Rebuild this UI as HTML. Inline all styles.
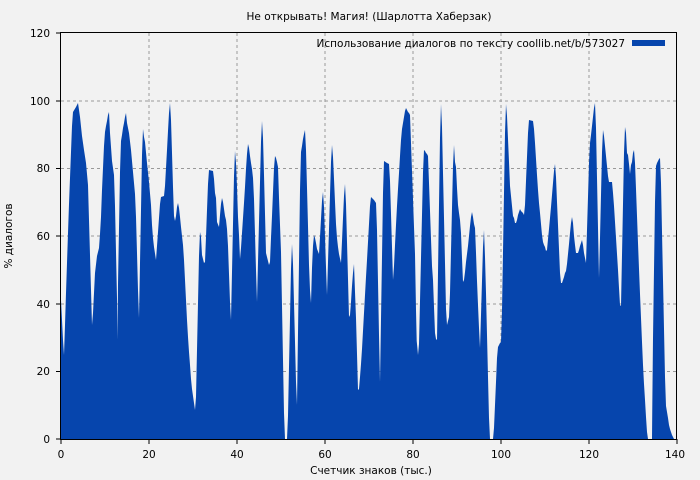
<!DOCTYPE html>
<html><head><meta charset="utf-8"><style>
html,body{margin:0;padding:0;background:#f2f2f2;}
svg{display:block;font-family:"DejaVu Sans","Liberation Sans",sans-serif;}
</style></head><body>
<svg width="700" height="480" viewBox="0 0 700 480" xmlns="http://www.w3.org/2000/svg">
<rect width="700" height="480" fill="#f2f2f2"/>
<g stroke="#999" stroke-width="1" stroke-dasharray="3,3">
<line x1="149" y1="33" x2="149" y2="439"/><line x1="237" y1="33" x2="237" y2="439"/>
<line x1="325" y1="33" x2="325" y2="439"/><line x1="413" y1="33" x2="413" y2="439"/>
<line x1="501" y1="33" x2="501" y2="439"/><line x1="589" y1="33" x2="589" y2="439"/>
<line x1="61" y1="371.5" x2="677" y2="371.5"/><line x1="61" y1="304" x2="677" y2="304"/>
<line x1="61" y1="236" x2="677" y2="236"/><line x1="61" y1="168.5" x2="677" y2="168.5"/>
<line x1="61" y1="101" x2="677" y2="101"/>
</g>
<polygon fill="#0645ad" points="61,439 61,300 62,320 63,340 64,355 65,325 66,293 67,263 68,233 69,204 70,178 71,152 72,126 73,112 76,107 78,103 80,117 82,136 84,150 86,163 88,185 89,220 90,255 91,290 92,325 93,313 94,293 95,273 97,256 99,248 100,234 101,217 102,190 103,168 104,146 105,132 106,126 107,121 108,115 109,112 110,133 112,161 114,175 115,206 116,252 117,298 117.5,340 118,284 119,228 120,172 121,141 122,135 123,128 124,123 125,117 126,113 127,123 129,133 131,150 133,172 134,183 135,194 136,217 137,253 138,290 139,318 140,263 141,210 142,155 143,129 144,137 145,142 147,163 149,182 151,205 152,225 153,238 154,247 156,260 157,246 158,232 159,218 160,204 161,197 164,196 165,186 166,168 167,150 168,131 169,113 170,103 171,120 172,153 173,187 174,216 175,221 176,216 177,207 178,203 179,208 180,217 181,227 182,236 183,245 184,260 185,280 186,300 187,320 188,337 189,352 190,365 191,379 192,389 193,396 194,403 195,410 196,397 197,350 198,303 199,256 200,232 201,237 202,255 204,263 205,262 206,237 207,210 208,184 209,170 213,171 214,179 215,193 216,198 217,222 219,227 220,215 221,204 222,198 223,202 224,209 225,216 226,220 227,229 228,246 229,274 230,302 231,320 232,272 233,224 234,176 235,151 236,163 237,187 238,217 239,235 240,259 241,248 242,233 243,218 244,203 245,187 246,169 247,154 248,144 249,148 250,156 251,163 252,169 253,178 254,199 255,234 256,270 257,302 258,262 259,222 260,182 261,142 262,121 263,138 264,175 265,214 266,253 267,257 268,261 269,265 270,262 271,238 272,216 273,192 274,168 275,156 276,158 277,162 278,167 279,198 280,225 281,252 282,306 283,360 284,413 285,439 287,439 288,416 289,367 290,318 291,269 292,244 293,264 294,303 295,342 296,382 297,405 298,333 299,262 300,190 301,152 302,146 303,139 304,134 305,130 306,150 307,188 308,226 309,265 310,290 311,303 312,268 313,246 314,235 315,238 316,243 317,249 319,254 320,237 321,219 322,201 323,192 324,207 325,237 326,267 327,295 328,262 329,229 330,195 331,162 332,145 333,157 334,179 335,202 336,224 337,238 338,247 339,254 341,263 342,241 343,218 344,196 345,184 346,204 347,242 348,279 349,317 350,315 351,302 352,286 353,273 354,264 355,292 356,318 357,354 358,390 359,389 360,377 361,364 362,349 363,331 364,313 365,295 366,277 367,260 368,242 369,224 370,206 371,197 374,200 376,203 377,230 378,282 379,335 380,382 381,319 382,257 383,193 384,161 387,163 389,164 390,181 391,214 392,247 393,280 394,266 395,245 396,225 397,206 398,189 399,173 400,156 401,140 402,129 403,123 404,117 405,111 406,108 407,110 408,112 409,113 410,115 411,143 412,171 413,199 414,227 415,254 416,310 416.7,341 417.3,347 418,355 419,344 420,301 421,258 422,215 423,172 424,150 425,151 426,153 427,154 428,156 429,183 430,211 431,239 432,266 433,280 434,307 435,333 436,339 437,340 438,273 439,205 440,138 441,104 442,127 443,173 444,218 445,263 446,309 447,325 448,321 449,317 450,293 451,251 452,208 453,166 454,145 455,162 456,167 457,188 458,205 459,213 460,220 461,233 462,258 463,282 464,280 465,272 466,262 467,254 468,246 469,236 470,226 471,217 472,212 473,217 474,224 475,228 476,253 477,281 478,305 479,328 480,348 481,315 482,281 483,247 484,230 485,257 486,293 487,335 488,377 489,418 490,439 493,439 494,428 495,405 496,382 497,358 498,347 499,345 500,343 501,342 502,310 503,252 504,193 505,133 506,104 507,116 508,139 509,162 510,186 511,196 512,206 513,216 514,218 515,223 516,223 517,220 518,215 519,212 520,209 521,211 523,213 524,215 525,205 526,181 527,157 528,133 529,120 533,121 534,129 535,143 536,159 537,175 538,190 539,203 540,213 541,224 542,235 543,242 544,245 545,247 546,251 547,250 548,239 549,229 550,218 551,207 552,195 553,183 554,171 555,164 556,177 557,202 558,225 559,249 560,273 561,283 562,283 563,280 564,277 565,273 566,271 567,264 568,254 569,244 570,233 571,223 572,217 573,223 574,236 575,245 576,253 578,253 579,250 580,246 581,243 582,240 583,245 584,253 586,263 587,230 588,197 589,163 590,143 591,135 592,126 593,117 594,108 595,103 596,128 597,178 598,228 599,278 600,238 601,195 602,152 603,130 604,136 605,146 606,156 607,166 608,176 609,182 612,182 613,193 614,206 615,222 616,238 617,254 618,270 619,288 620,305 621,306 622,255 623,204 624,153 625,127 626,133 627,153 628,155 629,164 630,174 631,165 632,162 633,153 634,150 635,163 636,189 637,216 638,243 639,269 640,294 641,318 642,342 643,365 644,384 645,400 646,417 647,432 648,439 652,439 652.3,406 653,338 654,270 655,202 656,166 657,163 658,161 659,159 660,158 661,183 662,232 663,280 664,329 665,377 666,406 667,412 668,418 669,425 670,429 671,432 672,435 673,437 674,439"/>
<rect x="60.5" y="32.5" width="616" height="407" fill="none" stroke="#000" stroke-width="1"/>
<g stroke="#000" stroke-width="1">
<line x1="61" y1="439" x2="61" y2="444"/><line x1="149" y1="439" x2="149" y2="444"/>
<line x1="237" y1="439" x2="237" y2="444"/><line x1="325" y1="439" x2="325" y2="444"/>
<line x1="413" y1="439" x2="413" y2="444"/><line x1="501" y1="439" x2="501" y2="444"/>
<line x1="589" y1="439" x2="589" y2="444"/><line x1="677" y1="439" x2="677" y2="444"/>
<line x1="56" y1="439" x2="61" y2="439"/><line x1="56" y1="371.5" x2="61" y2="371.5"/>
<line x1="56" y1="304" x2="61" y2="304"/><line x1="56" y1="236" x2="61" y2="236"/>
<line x1="56" y1="168.5" x2="61" y2="168.5"/><line x1="56" y1="101" x2="61" y2="101"/>
<line x1="56" y1="33" x2="61" y2="33"/>
</g>
<g font-size="10.5" fill="#000" text-anchor="middle">
<text x="61" y="458">0</text><text x="149" y="458">20</text><text x="237" y="458">40</text>
<text x="325" y="458">60</text><text x="413" y="458">80</text><text x="501" y="458">100</text>
<text x="589" y="458">120</text><text x="675" y="458">140</text>
</g>
<g font-size="10.5" fill="#000" text-anchor="end">
<text x="50" y="443">0</text><text x="50" y="375">20</text><text x="50" y="308">40</text>
<text x="50" y="240">60</text><text x="50" y="172">80</text><text x="50" y="105">100</text>
<text x="50" y="37">120</text>
</g>
<text x="369" y="20" font-size="10.5" text-anchor="middle">Не открывать! Магия! (Шарлотта Хаберзак)</text>
<text x="371" y="474" font-size="10.5" text-anchor="middle">Счетчик знаков (тыс.)</text>
<text x="12" y="236" font-size="10.5" text-anchor="middle" transform="rotate(-90 12 236)">% диалогов</text>
<text x="625" y="47" font-size="10.5" text-anchor="end">Использование диалогов по тексту coollib.net/b/573027</text>
<rect x="632" y="40" width="33" height="6" fill="#0645ad"/>
</svg>
</body></html>
